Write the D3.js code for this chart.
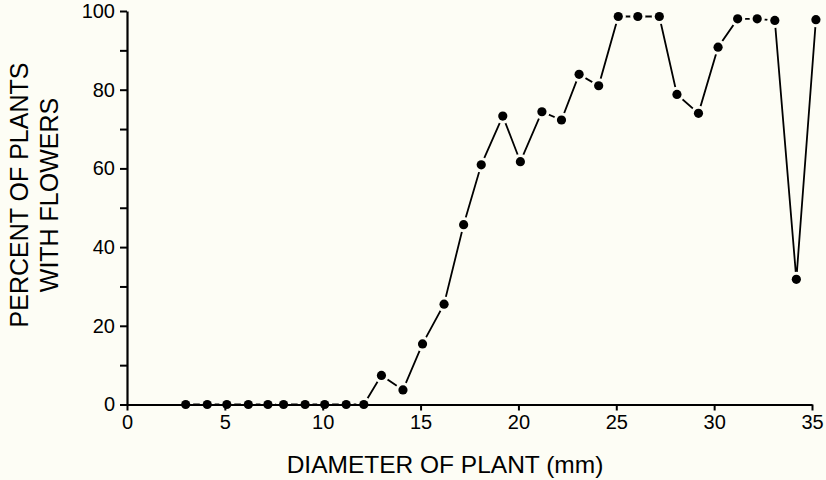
<!DOCTYPE html>
<html>
<head>
<meta charset="utf-8">
<script src="https://cdn.jsdelivr.net/npm/d3@7"></script>
<style>
  body { margin: 0; background: #fdfdf5; }
  svg { display: block; font-family: "Liberation Sans", Arial, sans-serif; }
</style>
</head>
<body>
<div id="chart"></div>
<script>
// Diameter of plant (mm) and percent of plants with flowers
const diameters = [3.0, 4.1, 5.1, 6.2, 7.2, 8.0, 9.1, 10.1, 11.2, 12.1,
    13.0, 14.1, 15.1, 16.2, 17.2, 18.1, 19.2, 20.1, 21.2, 22.2, 23.1, 24.1,
    25.1, 26.1, 27.2, 28.1, 29.2, 30.2, 31.2, 32.2, 33.1, 34.2, 35.2];
const percents = [0, 0, 0, 0, 0, 0, 0, 0, 0, 0,
    7.4, 3.7, 15.4, 25.5, 45.7, 60.9, 73.3, 61.7, 74.4, 72.3, 83.9, 81.0,
    98.6, 98.6, 98.6, 78.8, 74.0, 90.8, 98.0, 98.0, 97.6, 31.8, 97.8];
const xTicks = [0, 5, 10, 15, 20, 25, 30, 35];
const yTicks = [0, 20, 40, 60, 80, 100];
const yMinorTicks = [10, 30, 50, 70, 90];

const bg = '#fdfdf5';
const W = 826, H = 480;
const margin = { top: 11, right: 14, bottom: 75.5, left: 127 };
const width = W - margin.left - margin.right;
const height = H - margin.top - margin.bottom;

const data = diameters.map((d, i) => ({ x: d, y: percents[i] }));

const svg = d3.select('#chart').append('svg')
    .attr('width', W)
    .attr('height', H);

svg.append('rect').attr('width', W).attr('height', H).attr('fill', bg);

const g = svg.append('g')
    .attr('transform', `translate(${margin.left},${margin.top})`);

const x = d3.scaleLinear().domain([0, 35]).range([0, width]);
const y = d3.scaleLinear().domain([0, 100]).range([height, 0]);

// connecting line
g.append('path')
    .datum(data)
    .attr('fill', 'none')
    .attr('stroke', '#000')
    .attr('stroke-width', 1.8)
    .attr('d', d3.line().x(d => x(d.x)).y(d => y(d.y)));

// gap around markers
g.selectAll('.halo')
    .data(data)
    .enter()
    .append('circle')
    .attr('class', 'halo')
    .attr('cx', d => x(d.x))
    .attr('cy', d => y(d.y))
    .attr('r', 4.6)
    .attr('fill', bg)
    .attr('stroke', bg)
    .attr('stroke-width', 6);

// axes
g.append('g')
    .attr('transform', `translate(0,${height})`)
    .call(d3.axisBottom(x).tickValues(xTicks).tickSize(6).tickPadding(4).tickSizeOuter(0));

g.append('g')
    .call(d3.axisLeft(y).tickValues(yTicks).tickSize(7).tickPadding(5).tickSizeOuter(0));

g.append('g')
    .call(d3.axisLeft(y).tickValues(yMinorTicks).tickSize(7).tickFormat('').tickSizeOuter(0))
    .select('.domain').remove();

g.selectAll('.domain').attr('stroke', '#000').attr('stroke-width', 2.2);
g.selectAll('.tick line').attr('stroke', '#000').attr('stroke-width', 2);
g.selectAll('.tick text').attr('fill', '#000').style('font-size', '20px');

// markers
g.selectAll('.dot')
    .data(data)
    .enter()
    .append('circle')
    .attr('class', 'dot')
    .attr('cx', d => x(d.x))
    .attr('cy', d => y(d.y))
    .attr('r', 4.6)
    .attr('fill', '#000');

// axis titles
svg.append('text')
    .attr('x', 445)
    .attr('y', 473)
    .attr('text-anchor', 'middle')
    .style('font-size', '24.5px')
    .text('DIAMETER OF PLANT (mm)');

const yTitle = svg.append('text')
    .attr('transform', 'translate(0,195) rotate(-90)')
    .attr('text-anchor', 'middle')
    .style('font-size', '25px');
yTitle.append('tspan').attr('x', 0).attr('y', 28).text('PERCENT OF PLANTS');
yTitle.append('tspan').attr('x', 0).attr('y', 58).text('WITH FLOWERS');
</script>
</body>
</html>
